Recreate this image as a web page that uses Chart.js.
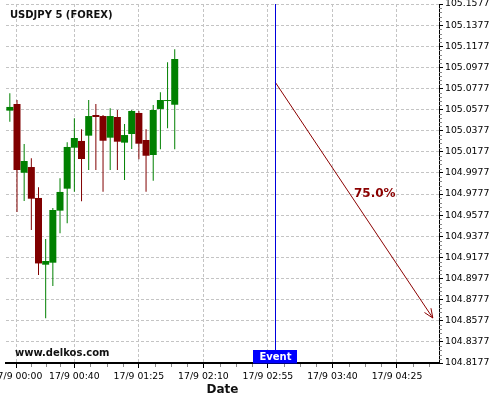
<!DOCTYPE html>
<html>
<head>
<meta charset="utf-8">
<script src="https://cdn.jsdelivr.net/npm/chart.js@4/dist/chart.umd.min.js"></script>
<style>
  html, body { margin: 0; padding: 0; background: #fff; }
</style>
</head>
<body>
<canvas id="chart" width="500" height="400"></canvas>
<script>
// USDJPY 5 minute candles
const candleTimes = [
    '16/9 23:55', '17/9 00:00', '17/9 00:05', '17/9 00:10', '17/9 00:15', '17/9 00:20',
    '17/9 00:25', '17/9 00:30', '17/9 00:35', '17/9 00:40', '17/9 00:45', '17/9 00:50',
    '17/9 00:55', '17/9 01:00', '17/9 01:05', '17/9 01:10', '17/9 01:15', '17/9 01:20',
    '17/9 01:25', '17/9 01:30', '17/9 01:35', '17/9 01:40', '17/9 01:45', '17/9 01:50'
];
const opens = [105.0567, 105.0630, 104.9979, 105.0033, 104.9740, 104.9108, 104.9127, 104.9620,
    104.9828, 105.0216, 105.0280, 105.0330, 105.0526, 105.0516, 105.0311, 105.0507,
    105.0264, 105.0346, 105.0545, 105.0289, 105.0147, 105.0583, 105.0658, 105.0623];
const highs = [105.0731, 105.0668, 105.0251, 105.0116, 104.9841, 104.9352, 104.9645, 104.9926,
    105.0267, 105.0495, 105.0390, 105.0668, 105.0630, 105.0526, 105.0589, 105.0573,
    105.0441, 105.0573, 105.0564, 105.0390, 105.0621, 105.0741, 105.1025, 105.1148];
const lows = [105.0462, 104.9607, 104.9711, 104.9437, 104.9011, 104.8601, 104.8907, 104.9406,
    104.9500, 104.9800, 104.9709, 105.0005, 105.0005, 104.9800, 105.0005, 105.0005,
    104.9910, 105.0204, 105.0106, 104.9800, 104.9904, 105.0201, 105.0400, 105.0201];
const closes = [105.0602, 105.0005, 105.0090, 104.9733, 104.9120, 104.9143, 104.9626, 104.9797,
    105.0223, 105.0308, 105.0109, 105.0516, 105.0507, 105.0282, 105.0516, 105.0273,
    105.0336, 105.0564, 105.0254, 105.0140, 105.0573, 105.0668, 105.0658, 105.1056];

// projection arrow + event
const projTimes = ['17/9 03:00', '17/9 04:50'];
const projPrices = [105.0838, 104.8603];
const projLabel = '75.0%';
const eventTime = '17/9 03:00';

const xTickLabels = ['17/9 00:00', '17/9 00:40', '17/9 01:25', '17/9 02:10', '17/9 02:55', '17/9 03:40', '17/9 04:25'];
const yTickLabels = ['104.8177', '104.8377', '104.8577', '104.8777', '104.8977', '104.9177',
    '104.9377', '104.9577', '104.9777', '104.9977', '105.0177', '105.0377', '105.0577',
    '105.0777', '105.0977', '105.1177', '105.1377', '105.1577'];

const GREEN = '#008000';
const RED = '#800000';
const FONT = 'DejaVu Sans';

// minutes since 17/9 00:00
function toMin(s) {
    const [d, hm] = s.split(' ');
    const day = parseInt(d.split('/')[0], 10);
    const [h, m] = hm.split(':').map(Number);
    return (day - 17) * 1440 + h * 60 + m;
}

const candleX = candleTimes.map(toMin);
const bodyColors = opens.map((o, i) => closes[i] >= o ? GREEN : RED);

const decor = {
    id: 'decor',
    afterDraw(chart) {
        const { ctx, chartArea } = chart;
        const xs = chart.scales.x, ys = chart.scales.y;
        ctx.save();

        // minor ticks
        ctx.strokeStyle = '#888';
        ctx.lineWidth = 1;
        ctx.beginPath();
        const xv = xs.ticks.map(t => t.value);
        for (let i = 0; i < xv.length; i++) {
            const next = i < xv.length - 1 ? xv[i + 1] : xv[i] + (xv[i] - xv[i - 1]);
            const step = (next - xv[i]) / 4;
            for (let k = 1; k < 4; k++) {
                const v = xv[i] + k * step;
                if (v > xs.max) break;
                const px = Math.round(xs.getPixelForValue(v)) + 0.5;
                ctx.moveTo(px, xs.top + 1);
                ctx.lineTo(px, xs.top + 4);
            }
        }
        const yv = ys.ticks.map(t => t.value);
        for (let i = 0; i < yv.length - 1; i++) {
            const step = (yv[i + 1] - yv[i]) / 5;
            for (let k = 1; k < 5; k++) {
                const py = Math.round(ys.getPixelForValue(yv[i] + k * step)) + 0.5;
                ctx.moveTo(ys.left, py);
                ctx.lineTo(ys.left + 3, py);
            }
        }
        ctx.stroke();

        // event marker
        const ex = Math.round(xs.getPixelForValue(toMin(eventTime))) + 0.5;
        ctx.strokeStyle = '#0000dd';
        ctx.beginPath();
        ctx.moveTo(ex, chartArea.top);
        ctx.lineTo(ex, chartArea.bottom - 13);
        ctx.stroke();
        ctx.fillStyle = '#0000ff';
        ctx.fillRect(ex - 22.5, chartArea.bottom - 13, 44, 13.5);
        ctx.fillStyle = '#fff';
        ctx.font = 'bold 10px "' + FONT + '"';
        ctx.textAlign = 'center';
        ctx.textBaseline = 'middle';
        ctx.fillText('Event', ex, chartArea.bottom - 6);

        // arrow head + percentage
        const x1 = xs.getPixelForValue(toMin(projTimes[0])), y1 = ys.getPixelForValue(projPrices[0]);
        const x2 = xs.getPixelForValue(toMin(projTimes[1])), y2 = ys.getPixelForValue(projPrices[1]);
        const ang = Math.atan2(y2 - y1, x2 - x1);
        ctx.strokeStyle = '#8b0000';
        ctx.beginPath();
        [-0.4, 0.4].forEach(a => {
            ctx.moveTo(x2, y2);
            ctx.lineTo(x2 - 10 * Math.cos(ang + a), y2 - 10 * Math.sin(ang + a));
        });
        ctx.stroke();
        ctx.fillStyle = '#8b0000';
        ctx.font = 'bold 12px "' + FONT + '"';
        ctx.textAlign = 'left';
        ctx.fillText(projLabel, (x1 + x2) / 2, (y1 + y2) / 2 - 6);

        // captions
        ctx.fillStyle = '#111';
        ctx.font = 'bold 10px "' + FONT + '"';
        ctx.fillText('USDJPY 5 (FOREX)', 10, 15.5);
        ctx.fillText('www.delkos.com', 15, 353.5);
        ctx.restore();
    }
};

new Chart(document.getElementById('chart'), {
    type: 'bar',
    data: {
        datasets: [
            {
                label: 'body',
                data: candleX.map((x, i) => ({ x: x, y: [opens[i], closes[i]] })),
                backgroundColor: bodyColors,
                barThickness: 7,
                minBarLength: 1,
                grouped: false,
                inflateAmount: 0,
                order: 1
            },
            {
                label: 'wick',
                data: candleX.map((x, i) => ({ x: x, y: [lows[i], highs[i]] })),
                backgroundColor: bodyColors,
                barThickness: 1,
                grouped: false,
                inflateAmount: 0,
                order: 2
            },
            {
                type: 'line',
                label: 'projection',
                data: projTimes.map((t, i) => ({ x: toMin(t), y: projPrices[i] })),
                borderColor: '#8b0000',
                borderWidth: 1,
                pointRadius: 0,
                fill: false,
                order: 0
            }
        ]
    },
    options: {
        responsive: false,
        animation: false,
        layout: { padding: { left: 6, top: 4, right: 0, bottom: 0 } },
        plugins: { legend: { display: false }, tooltip: { enabled: false } },
        scales: {
            x: {
                type: 'linear',
                offset: false,
                min: -7.67,
                max: 294.3,
                grid: { offset: false, color: '#c4c4c4', tickColor: '#000', tickLength: 5 },
                border: { color: '#000', width: 2, dash: [3, 2] },
                ticks: {
                    autoSkip: false, maxRotation: 0, padding: 3, color: '#000',
                    font: { family: FONT, size: 9.3 },
                    callback: (v, i) => xTickLabels[i]
                },
                title: {
                    display: true, text: 'Date', color: '#111',
                    font: { family: FONT, size: 12, weight: 'bold' },
                    padding: { top: 0, bottom: 3 }
                },
                afterBuildTicks: s => { s.ticks = xTickLabels.map(l => ({ value: toMin(l) })); },
                afterFit: s => { s.height = 37; s.paddingLeft = 0; s.paddingRight = 0; }
            },
            y: {
                position: 'right',
                min: 104.8177,
                max: 105.1577,
                grid: { color: '#c4c4c4', tickColor: '#000', tickLength: 4 },
                border: { color: '#000', width: 1, dash: [3, 2] },
                ticks: {
                    autoSkip: false, padding: 2, color: '#000',
                    font: { family: FONT, size: 9.3 },
                    callback: (v, i) => yTickLabels[i]
                },
                afterBuildTicks: s => { s.ticks = yTickLabels.map(l => ({ value: parseFloat(l) })); },
                afterFit: s => { s.width = 61; s.paddingTop = 0; s.paddingBottom = 0; }
            }
        }
    },
    plugins: [decor]
});
</script>
</body>
</html>
